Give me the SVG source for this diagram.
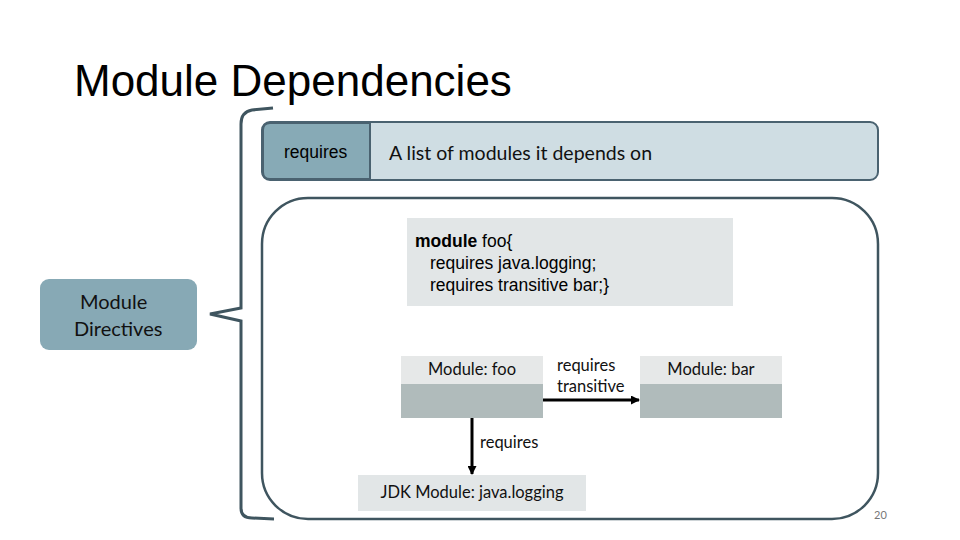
<svg xmlns="http://www.w3.org/2000/svg" width="960" height="540" viewBox="0 0 960 540">
<style>
.ar{font-family:"Liberation Sans",Arial,sans-serif;fill:#000}
.cal{font-family:Lato,"Open Sans",sans-serif;fill:#111}
.ln{stroke:#3f555f;stroke-width:3;fill:none}
.conn{stroke:#000;stroke-width:3;fill:none}
</style>
<defs>
<marker id="ah" markerWidth="9" markerHeight="9" refX="8" refY="4.5" orient="auto" markerUnits="userSpaceOnUse">
<path d="M0,0 L9,4.5 L0,9 z" fill="#000"/>
</marker>
</defs>
<rect width="960" height="540" fill="#fff"/>
<text class="ar" x="74" y="96" font-size="44">Module Dependencies</text>

<g id="brace">
<path class="ln" d="M273,108 L252,110 Q241,112 241,124 L241,308 L210,314 L241,321 L241,508 Q241,518 252,518 L274,519"/>
</g>

<g id="directives">
<rect x="40" y="279" width="157" height="71" rx="9" fill="#87a9b5"/>
<text class="cal" font-size="20" x="80" y="309">Module</text>
<text class="cal" font-size="20" x="74" y="336">Directives</text>
</g>

<g id="requires-bar">
<rect x="262" y="122" width="616" height="58" rx="8" fill="#cfdde3" stroke="#4a6270" stroke-width="2"/>
<path d="M270,123 L370,123 L370,179 L270,179 Q263,179 263,172 L263,130 Q263,123 270,123 z" fill="#87aab6" stroke="#4a6270" stroke-width="2"/>
<text class="ar" font-size="17.5" x="284" y="158">requires</text>
<text class="cal" font-size="19.5" x="389" y="160">A list of modules it depends on</text>
</g>

<g id="container">
<rect x="262" y="198" width="616" height="321" rx="46" fill="none" stroke="#3f555f" stroke-width="2.5"/>
</g>

<g id="code">
<rect x="407" y="218" width="326" height="88" fill="#e2e6e7"/>
<text class="ar" font-size="17.5" x="415" y="247"><tspan font-weight="bold">module</tspan> foo{</text>
<text class="ar" font-size="17.5" x="430" y="269">requires java.logging;</text>
<text class="ar" font-size="17.5" x="430" y="291">requires transitive bar;}</text>
</g>

<g id="foo">
<rect x="401" y="356" width="142" height="28" fill="#e6e8e8"/>
<rect x="401" y="384" width="142" height="34" fill="#b0bbbb"/>
<text class="cal" font-size="16.5" x="472" y="375" text-anchor="middle">Module: foo</text>
</g>

<g id="bar">
<rect x="640" y="356" width="142" height="28" fill="#e6e8e8"/>
<rect x="640" y="384" width="142" height="34" fill="#b0bbbb"/>
<text class="cal" font-size="16.5" x="711" y="375" text-anchor="middle">Module: bar</text>
</g>

<g id="jdk">
<rect x="358" y="475" width="228" height="36" fill="#e2e6e7"/>
<text class="cal" font-size="16.5" x="472" y="498" text-anchor="middle">JDK Module: java.logging</text>
</g>

<g id="connectors">
<line class="conn" x1="543" y1="400" x2="639" y2="400" marker-end="url(#ah)"/>
<line class="conn" x1="472" y1="418" x2="472" y2="474" marker-end="url(#ah)"/>
<text class="cal" font-size="16.5" x="557" y="371">requires</text>
<text class="cal" font-size="16.5" x="557" y="392">transitive</text>
<text class="cal" font-size="16.5" x="480" y="448">requires</text>
</g>

<text x="874" y="519" font-family="Lato,'Open Sans',sans-serif" font-size="11" fill="#777">20</text>
</svg>
